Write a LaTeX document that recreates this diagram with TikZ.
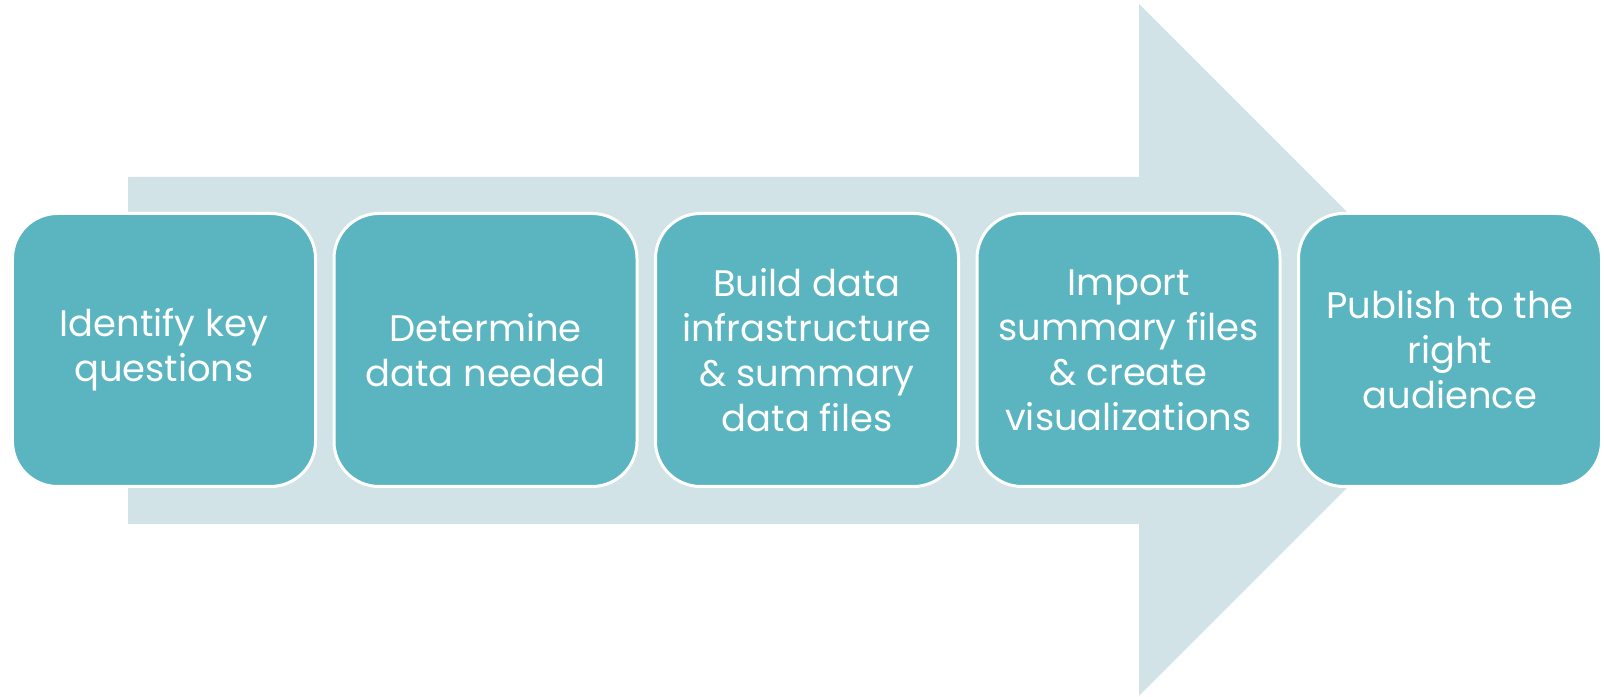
\documentclass[tikz,border=0pt]{standalone}
\usepackage{fontspec}
\newfontfamily\stepfont{Poppins}
\usetikzlibrary{positioning}
\definecolor{boxteal}{RGB}{90,181,193}
\definecolor{arrowpale}{RGB}{209,227,231}
\tikzset{
  stepbox/.style={draw=white, line width=0.03cm, fill=boxteal, rounded corners=0.45cm,
    minimum width=3.03cm, minimum height=2.73cm, align=center, text=white,
    font=\stepfont\fontsize{10.5}{12.8}\selectfont, inner sep=0pt},
  bigarrow/.style={fill=arrowpale}
}
\begin{document}
\begin{tikzpicture}
      \useasboundingbox (0,0) rectangle (16.04,6.97);
      \fill[bigarrow] (1.28,1.73) -- (11.39,1.73) -- (11.39,0.01) -- (14.85,3.47)
        -- (11.39,6.93) -- (11.39,5.20) -- (1.28,5.20) -- cycle;
      \node[stepbox] (s1) at (1.64,3.47) {Identify key\\questions};
      \node[stepbox, right=0.155cm of s1] (s2) {Determine\\data needed};
      \node[stepbox, right=0.155cm of s2] (s3) {Build data\\infrastructure\\\& summary\\data files};
      \node[stepbox, right=0.155cm of s3] (s4) {Import\\summary files\\\& create\\visualizations};
      \node[stepbox, right=0.155cm of s4] (s5) {Publish to the\\right\\audience};
    \end{tikzpicture}
\end{document}
